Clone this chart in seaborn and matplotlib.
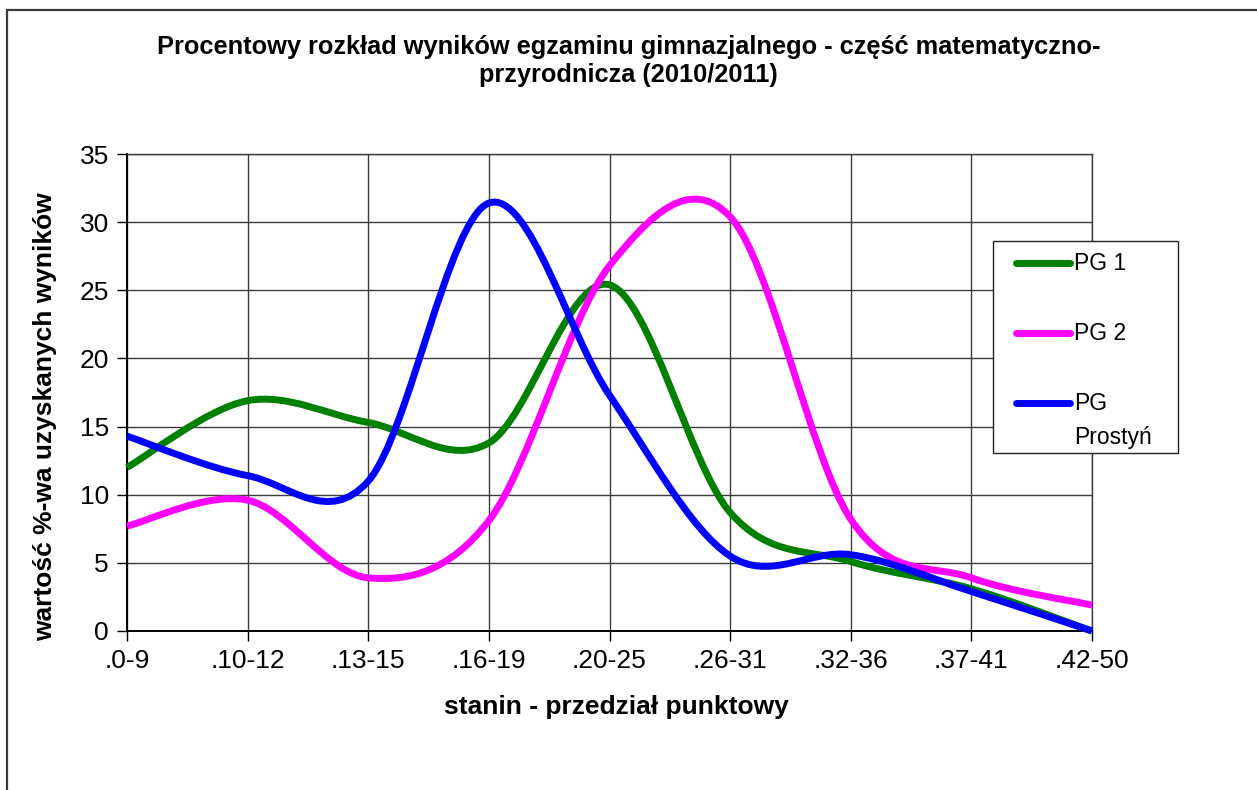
import numpy as np
import pandas as pd
import seaborn as sns
import matplotlib.pyplot as plt
from matplotlib.path import Path
from matplotlib.patches import PathPatch, Rectangle
from matplotlib.lines import Line2D

# values
categories = ['.0-9', '.10-12', '.13-15', '.16-19', '.20-25', '.26-31', '.32-36', '.37-41', '.42-50']
pg1 = [12.0, 16.9, 15.3, 13.8, 25.4, 8.7, 5.1, 3.1, 0.0]
pg2 = [7.7, 9.6, 3.9, 8.1, 26.8, 30.4, 8.2, 3.9, 1.9]
pg_prostyn = [14.3, 11.4, 11.0, 31.4, 17.3, 5.5, 5.6, 2.9, 0.0]
series_names = ['PG 1', 'PG 2', 'PG Prostyń']
series_colors = ['#008000', '#ff00ff', '#0000ff']
y_ticks = [0, 5, 10, 15, 20, 25, 30, 35]

df = pd.DataFrame({'stanin': categories, 'PG 1': pg1, 'PG 2': pg2, 'PG Prostyń': pg_prostyn})

sns.set_theme(style='white')
plt.rcParams['font.family'] = ['Liberation Sans', 'DejaVu Sans']
plt.rcParams['text.color'] = 'black'

W, H = 1257, 790
fig = plt.figure(figsize=(W / 100, H / 100), dpi=100)


def fx(px):
    return px / W


def fy(py):
    return 1 - py / H


def smooth_path(xs, ys):
    # Excel-like smoothed line: cubic bezier segments through the points
    pts = np.column_stack([xs, ys]).astype(float)
    ext = np.vstack([pts[0], pts, pts[-1]])
    verts = [pts[0]]
    codes = [Path.MOVETO]
    for i in range(len(pts) - 1):
        p0, p1, p2, p3 = ext[i], ext[i + 1], ext[i + 2], ext[i + 3]
        verts += [p1 + (p2 - p0) / 6, p2 - (p3 - p1) / 6, p2]
        codes += [Path.CURVE4] * 3
    return Path(verts, codes)


# outer chart frame
fig.add_artist(Rectangle((fx(7), -0.2), 1.2, fy(10) + 0.2, transform=fig.transFigure,
                         fill=False, edgecolor='#3a3a3a', lw=1.6))

ax = fig.add_axes([fx(127), fy(631), fx(1092) - fx(127), fy(154) - fy(631)])
xpos = np.arange(len(categories))
for name, color in zip(series_names, series_colors):
    patch = PathPatch(smooth_path(xpos, df[name].values), fill=False, edgecolor=color,
                      lw=5, capstyle='butt', joinstyle='round', clip_on=False, zorder=3)
    ax.add_patch(patch)

ax.set_xlim(0, len(categories) - 1)
ax.set_ylim(0, 35)
ax.set_xticks(xpos)
ax.set_xticklabels(categories)
ax.set_yticks(y_ticks)
ax.tick_params(axis='both', which='major', labelsize=19, colors='black', direction='out',
               length=7, width=1, pad=6, bottom=True, left=True)
ax.grid(True, color='#3c3c3c', lw=1)
for side in ['top', 'right']:
    ax.spines[side].set_color('#3c3c3c')
    ax.spines[side].set_linewidth(1)
for side in ['left', 'bottom']:
    ax.spines[side].set_color('black')
    ax.spines[side].set_linewidth(1.4)

fig.text(0.5, fy(61), 'Procentowy rozkład wyników egzaminu gimnazjalnego - część matematyczno-\nprzyrodnicza (2010/2011)',
         ha='center', va='center', fontsize=18.3, fontweight='bold', linespacing=1.25)
fig.text(fx(616), fy(707), 'stanin - przedział punktowy', ha='center', va='center',
         fontsize=19, fontweight='bold')
fig.text(fx(45), fy(417), 'wartość %-wa uzyskanych wyników', ha='center', va='center',
         rotation=90, fontsize=19, fontweight='bold')

# legend box
fig.add_artist(Rectangle((fx(993), fy(453)), fx(1178) - fx(993), fy(241) - fy(453),
                         transform=fig.transFigure, facecolor='white', edgecolor='#222222', lw=1))
legend_rows = [263, 333, 403]
legend_labels = ['PG 1', 'PG 2', 'PG']
for row, label, color in zip(legend_rows, legend_labels, series_colors):
    fig.add_artist(Line2D([fx(1016), fx(1070)], [fy(row), fy(row)], transform=fig.transFigure,
                          color=color, lw=5, solid_capstyle='round'))
    fig.text(fx(1074), fy(row), label, ha='left', va='center', fontsize=16.5)
fig.text(fx(1074), fy(438), 'Prostyń', ha='left', va='center', fontsize=16.5)

fig.savefig('out.png', dpi=100)
